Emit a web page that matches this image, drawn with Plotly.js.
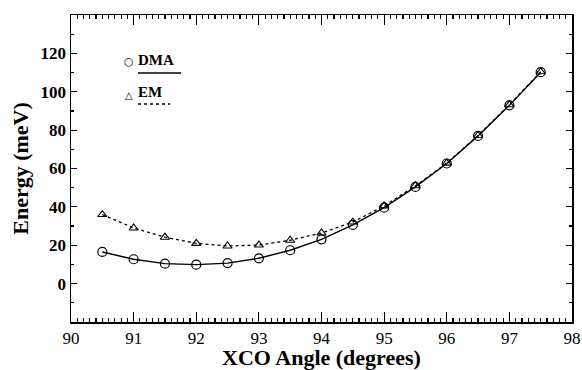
<!DOCTYPE html>
<html><head><meta charset="utf-8">
<script src="https://cdn.plot.ly/plotly-3.0.1.min.js"></script>
<style>body{margin:0;background:#fff}#c{width:582px;height:370px}#e{position:absolute;top:0;left:200px;font-size:10px;color:red}</style>
</head><body><div id="c"></div><div id="e"></div>
<script>
window.onerror=function(m){document.getElementById('e').textContent+=m;};
const angles = [90.5,91,91.5,92,92.5,93,93.5,94,94.5,95,95.5,96,96.5,97,97.5];
const dma = [16.5,12.7,10.4,9.9,10.7,13.2,17.4,23.1,30.6,39.6,50.4,62.6,77,92.9,110.2];
const em  = [36,29,24.2,21,19.6,20.1,22.6,26.4,32.1,40.5,51,62.8,77.2,93.2,110.4];
const yTicks = [0,20,40,60,80,100,120];
const seriesNames = ['DMA','EM'];

const F = 'Liberation Serif';
const traces = [
  {x:angles,y:em,mode:'lines+markers',name:seriesNames[1],showlegend:false,
   line:{color:'#000',width:1.3,dash:'3px,3px'},
   marker:{symbol:'triangle-up-open',size:8,color:'#000',line:{width:1.1}}},
  {x:angles,y:dma,mode:'lines+markers',name:seriesNames[0],showlegend:false,
   line:{color:'#000',width:1.4},
   marker:{symbol:'circle-open',size:9,color:'#000',line:{width:1.2}}}
];
const layout = {
  width:582,height:370,
  margin:{l:71,r:10,t:15,b:48},
  paper_bgcolor:'#fff',plot_bgcolor:'#fff',
  font:{family:F,color:'#000'},
  xaxis:{range:[90,98],dtick:1,tick0:90,
    ticks:'inside',ticklen:10,tickwidth:1.2,tickcolor:'#000',
    showline:true,linecolor:'#000',linewidth:1.5,mirror:'allticks',showgrid:false,zeroline:false,
    tickfont:{family:F,size:17},
    minor:{dtick:0.1,ticks:'inside',ticklen:4},
    title:{text:'<b>XCO Angle (degrees)</b>',font:{family:F,size:22},standoff:4}},
  yaxis:{range:[-20,140],tickmode:'array',tickvals:yTicks,ticktext:yTicks.map(v=>'<b>'+v+'</b>'),
    ticks:'inside',ticklen:6,tickwidth:1.2,tickcolor:'#000',
    showline:true,linecolor:'#000',linewidth:1.5,mirror:'allticks',showgrid:false,zeroline:false,
    tickfont:{family:F,size:17},
    minor:{tickmode:'linear',dtick:10,tick0:0,ticks:'inside',ticklen:3},
    title:{text:'<b>Energy (meV)</b>',font:{family:F,size:22},standoff:6}},
  annotations:[
    {xref:'paper',yref:'paper',x:(136-71)/501,y:(322-60)/307,xanchor:'left',yanchor:'middle',
     text:'<b>'+seriesNames[0]+'</b>',showarrow:false,font:{family:F,size:15}},
    {xref:'paper',yref:'paper',x:(136-71)/501,y:(322-92)/307,xanchor:'left',yanchor:'middle',
     text:'<b>'+seriesNames[1]+'</b>',showarrow:false,font:{family:F,size:15}},
    {xref:'paper',yref:'paper',x:(129-71)/501,y:(322-62)/307,xanchor:'center',yanchor:'middle',
     text:'○',showarrow:false,font:{family:'DejaVu Sans',size:11}},
    {xref:'paper',yref:'paper',x:(129-71)/501,y:(322-95)/307,xanchor:'center',yanchor:'middle',
     text:'△',showarrow:false,font:{family:'DejaVu Sans',size:10}}
  ],
  shapes:[
    {type:'line',xref:'paper',yref:'paper',x0:(138-71)/501,x1:(181-71)/501,y0:(322-73)/307,y1:(322-73)/307,
     line:{color:'#000',width:1.5}},
    {type:'line',xref:'paper',yref:'paper',x0:(138-71)/501,x1:(170-71)/501,y0:(322-104)/307,y1:(322-104)/307,
     line:{color:'#000',width:1.3,dash:'3px,3px'}}
  ]
};
Plotly.newPlot('c',traces,layout,{displayModeBar:false,staticPlot:true}).catch(e=>{document.getElementById('e').textContent+=e;});
// bold x tick labels via ticktext
</script></body></html>
